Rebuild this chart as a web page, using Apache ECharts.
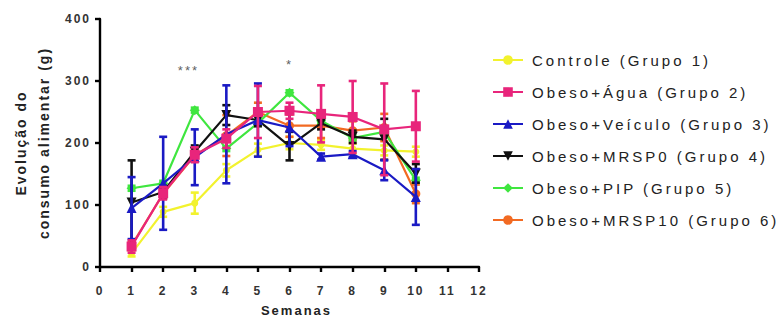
<!DOCTYPE html>
<html>
<head>
<meta charset="utf-8">
<script src="https://cdn.jsdelivr.net/npm/echarts@6/dist/echarts.min.js"></script>
<style>
  html, body { margin: 0; padding: 0; background: #fff; }
  #chart { width: 780px; height: 324px; letter-spacing: 2px; }
  #chart text[style*="15px"] { letter-spacing: 3px; }
</style>
</head>
<body>
<div id="chart"></div>
<script>
// ---- data ----
const weeks = [1, 2, 3, 4, 5, 6, 7, 8, 9, 10];
const seriesNames = [
  'Controle (Grupo 1)',
  'Obeso+Água (Grupo 2)',
  'Obeso+Veículo (Grupo 3)',
  'Obeso+MRSP0 (Grupo 4)',
  'Obeso+PIP (Grupo 5)',
  'Obeso+MRSP10 (Grupo 6)'
];
const controleMean = [22, 89, 103, 156, 189, 200, 197, 191, 188, 186];
const controleErr  = [5, 8, 17, 10, 10, 10, 8, 8, 8, 8];
const aguaMean     = [33, 119, 181, 207, 250, 252, 247, 242, 222, 227];
const aguaErr      = [10, 10, 12, 15, 42, 13, 46, 58, 74, 57];
const veiculoMean  = [95, 135, 177, 214, 237, 225, 178, 182, 156, 113];
const veiculoErr   = [50, 75, 45, 79, 59, 30, 5, 5, 16, 45];
const mrsp0Mean    = [104, 121, 186, 245, 237, 195, 232, 210, 206, 151];
const mrsp0Err     = [68, 10, 10, 16, 10, 23, 10, 10, 33, 15];
const pipMean      = [127, 135, 253, 191, 232, 281, 236, 208, 218, 140];
const pipErr       = [4, 4, 4, 4, 4, 4, 4, 4, 4, 4];
const mrsp10Mean   = [35, 118, 180, 212, 250, 228, 228, 220, 225, 118];
const mrsp10Err    = [5, 8, 10, 33, 15, 18, 20, 15, 22, 15];
const annotations  = [[2.8, 317, '***'], [6, 327, '*']];
const xTicks = [0, 12, 1];   // min, max, interval
const yTicks = [0, 400, 100];

// ---- styling ----
const colors  = ['#f2f22e', '#e8257b', '#1a1ac4', '#111111', '#3fe63f', '#f26a22'];
const symbols = ['circle', 'rect', 'triangle', 'path://M0,0 L10,0 L5,9 Z', 'diamond', 'circle'];
const symSizes = [7, 10, 10, 10, 10, 9];
const zs = [2, 7, 6, 5, 4, 3];
const means = [controleMean, aguaMean, veiculoMean, mrsp0Mean, pipMean, mrsp10Mean];
const errs  = [controleErr, aguaErr, veiculoErr, mrsp0Err, pipErr, mrsp10Err];

const FONT = 'Liberation Sans, Arial, sans-serif';
const series = [];
seriesNames.forEach((name, k) => {
  series.push({
    name: name,
    type: 'line',
    z: zs[k],
    data: weeks.map((w, i) => [w, means[k][i]]),
    symbol: symbols[k],
    symbolSize: symSizes[k],
    showAllSymbol: true,
    lineStyle: { color: colors[k], width: 2.2 },
    itemStyle: { color: colors[k], borderWidth: 0 },
    animation: false
  });
});
seriesNames.forEach((name, k) => {
  series.push({
    name: name,
    type: 'custom',
    z: zs[k],
    silent: true,
    encode: { x: 0, y: 1 },
    data: weeks.map((w, i) => [w, means[k][i], errs[k][i]]),
    renderItem: function (params, api) {
      const x = api.value(0), y = api.value(1), e = api.value(2);
      const top = api.coord([x, y + e]);
      const bot = api.coord([x, y - e]);
      const hw = 4;
      const st = { stroke: colors[k], lineWidth: 2.6 };
      return {
        type: 'group',
        children: [
          { type: 'line', shape: { x1: top[0], y1: top[1], x2: bot[0], y2: bot[1] }, style: st },
          { type: 'line', shape: { x1: top[0] - hw, y1: top[1], x2: top[0] + hw, y2: top[1] }, style: st },
          { type: 'line', shape: { x1: bot[0] - hw, y1: bot[1], x2: bot[0] + hw, y2: bot[1] }, style: st }
        ]
      };
    },
    tooltip: { show: false }
  });
});
series.push({
  type: 'scatter',
  z: 10,
  symbolSize: 0,
  data: annotations.map(a => ({ value: [a[0], a[1]], label: { formatter: a[2] } })),
  label: { show: true, position: 'inside', color: '#333', fontSize: 13, fontFamily: FONT },
  silent: true,
  animation: false
});

const chart = echarts.init(document.getElementById('chart'), null, { renderer: 'svg', width: 780, height: 324 });
chart.setOption({
  backgroundColor: '#ffffff',
  animation: false,
  color: colors,
  grid: { left: 100, right: 301, top: 19, bottom: 57, containLabel: false },
  legend: {
    orient: 'vertical',
    left: 487,
    top: 47,
    itemWidth: 30,
    itemHeight: 12,
    itemGap: 16,
    data: seriesNames.map(n => ({ name: n })),
    textStyle: { fontFamily: FONT, fontSize: 15, color: '#222', lineHeight: 16, padding: [0, 0, 0, 4] },
    selectedMode: false
  },
  xAxis: {
    type: 'value',
    min: xTicks[0], max: xTicks[1], interval: xTicks[2],
    name: 'Semanas',
    nameLocation: 'middle',
    nameGap: 37,
    nameTextStyle: { fontFamily: FONT, fontSize: 13, fontWeight: 'bold', color: '#222', padding: [0, 0, 0, 14] },
    axisLine: { lineStyle: { color: '#000', width: 2.4 } },
    axisTick: { length: 5, lineStyle: { color: '#000', width: 2.4 } },
    axisLabel: { fontFamily: FONT, fontSize: 12, fontWeight: 'bold', color: '#333', margin: 18 },
    splitLine: { show: false }
  },
  yAxis: {
    type: 'value',
    min: yTicks[0], max: yTicks[1], interval: yTicks[2],
    name: 'Evolução do\nconsumo alimentar (g)',
    nameLocation: 'middle',
    nameRotate: 90,
    nameGap: 45,
    nameTextStyle: { fontFamily: FONT, fontSize: 14, fontWeight: 'bold', color: '#222', lineHeight: 23 },
    axisLine: { show: true, lineStyle: { color: '#000', width: 2.4 } },
    axisTick: { show: true, length: 5, lineStyle: { color: '#000', width: 2.4 } },
    axisLabel: { fontFamily: FONT, fontSize: 12, fontWeight: 'bold', color: '#333', margin: 9 },
    splitLine: { show: false }
  },
  series: series
});
</script>
</body>
</html>
